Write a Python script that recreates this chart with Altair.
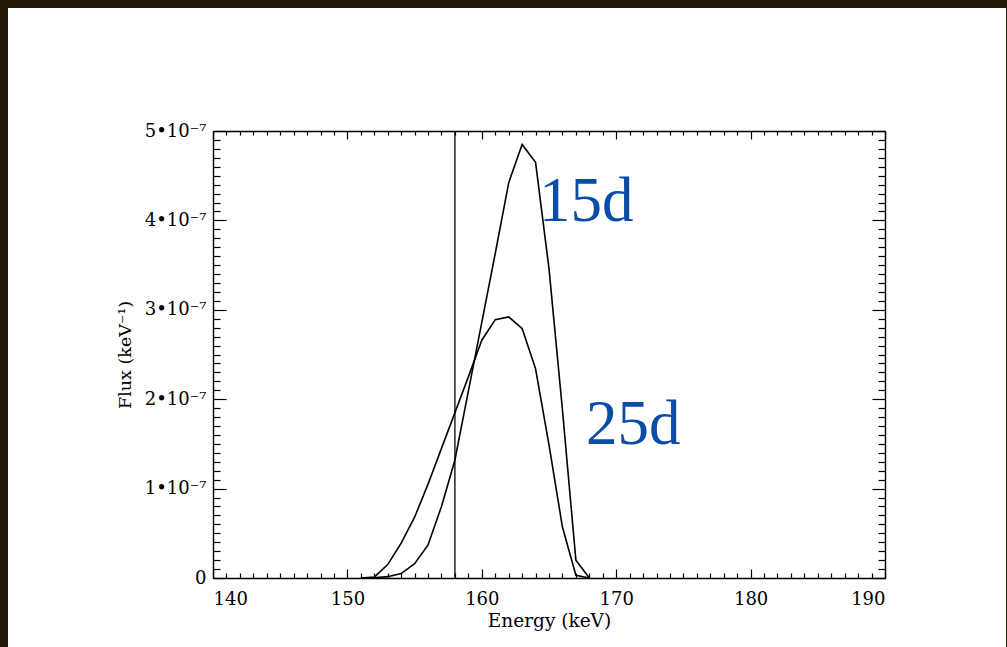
import altair as alt
import pandas as pd

# ---- data (flux in units of 1e-7 keV^-1) ----
energy = [151, 152, 153, 154, 155, 156, 157, 158, 159, 160, 161, 162, 163, 164, 165, 166, 167, 168]
flux_15d = [0.0, 0.003, 0.015, 0.05, 0.16, 0.37, 0.80, 1.32, 2.09, 2.86, 3.63, 4.42, 4.85, 4.65, 3.46, 1.88, 0.20, 0.0]
flux_25d = [0.0, 0.01, 0.15, 0.39, 0.68, 1.05, 1.45, 1.85, 2.25, 2.66, 2.89, 2.92, 2.79, 2.34, 1.49, 0.57, 0.03, 0.0]
series_names = ["15d", "25d"]

marker_energy = [158]

label_text = ["15d", "25d"]
label_energy = [164.25, 167.75]
label_flux = [3.99, 1.50]

major_x = [140, 150, 160, 170, 180, 190]
minor_x = [e for e in range(141, 190) if e % 10 != 0]
major_y = [0, 1e-7, 2e-7, 3e-7, 4e-7, 5e-7]
minor_y = [k * 1e-8 for k in range(1, 50) if k % 10 != 0]

rows = []
for name, vals in zip(series_names, [flux_15d, flux_25d]):
    for e, f in zip(energy, vals):
        rows.append({"energy": e, "flux": f * 1e-7, "series": name})
df = pd.DataFrame(rows)

xs = alt.Scale(domain=[140, 190], nice=False, zero=False)
ys = alt.Scale(domain=[0, 5e-7], nice=False)

SERIF = "DejaVu Serif"
base = alt.Chart(df)

# background white panel (decoration)
panel = alt.Chart(pd.DataFrame({"a": [0]})).mark_rect(color="white").encode(
    x=alt.value(-205), x2=alt.value(793), y=alt.value(-123), y2=alt.value(520)
)

lines = base.mark_line(color="black", strokeWidth=1.6).encode(
    x=alt.X("energy:Q", scale=xs, axis=alt.Axis(
        orient="bottom", values=major_x, ticks=False, tickSize=0, domain=True,
        domainColor="black", domainWidth=1.4, grid=False, format="d", zindex=1,
        labelPadding=12, labelFont=SERIF, labelFontSize=18, labelColor="black",
        title="Energy (keV)", titleFont=SERIF, titleFontSize=18.5, titleFontWeight="normal",
        titleColor="black", titlePadding=3)),
    y=alt.Y("flux:Q", scale=ys, axis=alt.Axis(
        orient="left", values=major_y, ticks=False, tickSize=0, domain=True,
        domainColor="black", domainWidth=1.4, grid=False, zindex=1,
        labelExpr="datum.value == 0 ? '0' : format(datum.value * 1e7, '.0f') + '•10⁻⁷'",
        labelPadding=7, labelFont=SERIF, labelFontSize=18, labelColor="black",
        title="Flux (keV⁻¹)", titleFont=SERIF, titleFontSize=17.5, titleFontWeight="normal",
        titleColor="black", titlePadding=10)),
    detail="series:N",
)


def tick_layer(xorient, xvals, xlen, yorient, yvals, ylen):
    return base.mark_line(strokeOpacity=0).encode(
        x=alt.X("energy:Q", scale=xs, axis=alt.Axis(
            orient=xorient, values=xvals, offset=-xlen, tickSize=xlen, ticks=True, zindex=1,
            tickColor="black", tickWidth=1.2, labels=False, domain=False, grid=False, title=None)),
        y=alt.Y("flux:Q", scale=ys, axis=alt.Axis(
            orient=yorient, values=yvals, offset=-ylen, tickSize=ylen, ticks=True, zindex=1,
            tickColor="black", tickWidth=1.2, labels=False, domain=False, grid=False, title=None)),
        detail="series:N",
    )


t_bl_major = tick_layer("bottom", major_x, 9, "left", major_y, 13)
t_bl_minor = tick_layer("bottom", minor_x, 5, "left", minor_y, 7)
t_tr_major = tick_layer("top", major_x, 8, "right", major_y, 13)
t_tr_minor = tick_layer("top", minor_x, 4, "right", minor_y, 7)

frame = base.mark_line(strokeOpacity=0).encode(
    x=alt.X("energy:Q", scale=xs, axis=alt.Axis(
        orient="top", values=major_x, ticks=False, tickSize=0, labels=False, domain=True, zindex=1,
        domainColor="black", domainWidth=1.4, grid=False, title=None)),
    y=alt.Y("flux:Q", scale=ys, axis=alt.Axis(
        orient="right", values=major_y, ticks=False, tickSize=0, labels=False, domain=True, zindex=1,
        domainColor="black", domainWidth=1.4, grid=False, title=None)),
    detail="series:N",
)

vrule = alt.Chart(pd.DataFrame({"e": marker_energy})).mark_rule(
    color="black", strokeWidth=1.3
).encode(x=alt.X("e:Q", scale=xs, axis=None))

labels_df = pd.DataFrame({"t": label_text, "e": label_energy, "f": [v * 1e-7 for v in label_flux]})
labels = alt.Chart(labels_df).mark_text(
    font="Liberation Serif", fontSize=63, color="#0B4CA6", align="left", baseline="alphabetic"
).encode(
    x=alt.X("e:Q", scale=xs, axis=None),
    y=alt.Y("f:Q", scale=ys, axis=None),
    text="t:N",
)

chart = alt.layer(
    panel, vrule, lines, t_bl_major, t_bl_minor, t_tr_major, t_tr_minor, frame, labels
).resolve_axis(
    x="independent", y="independent"
).properties(
    width=672, height=447,
    autosize=alt.AutoSizeParams(type="none"),
    padding={"left": 213, "top": 131, "right": 122, "bottom": 69},
    background="#231904",
).configure_view(strokeWidth=0)

chart.save("out.html", embed_options={"renderer": "svg", "actions": False})
